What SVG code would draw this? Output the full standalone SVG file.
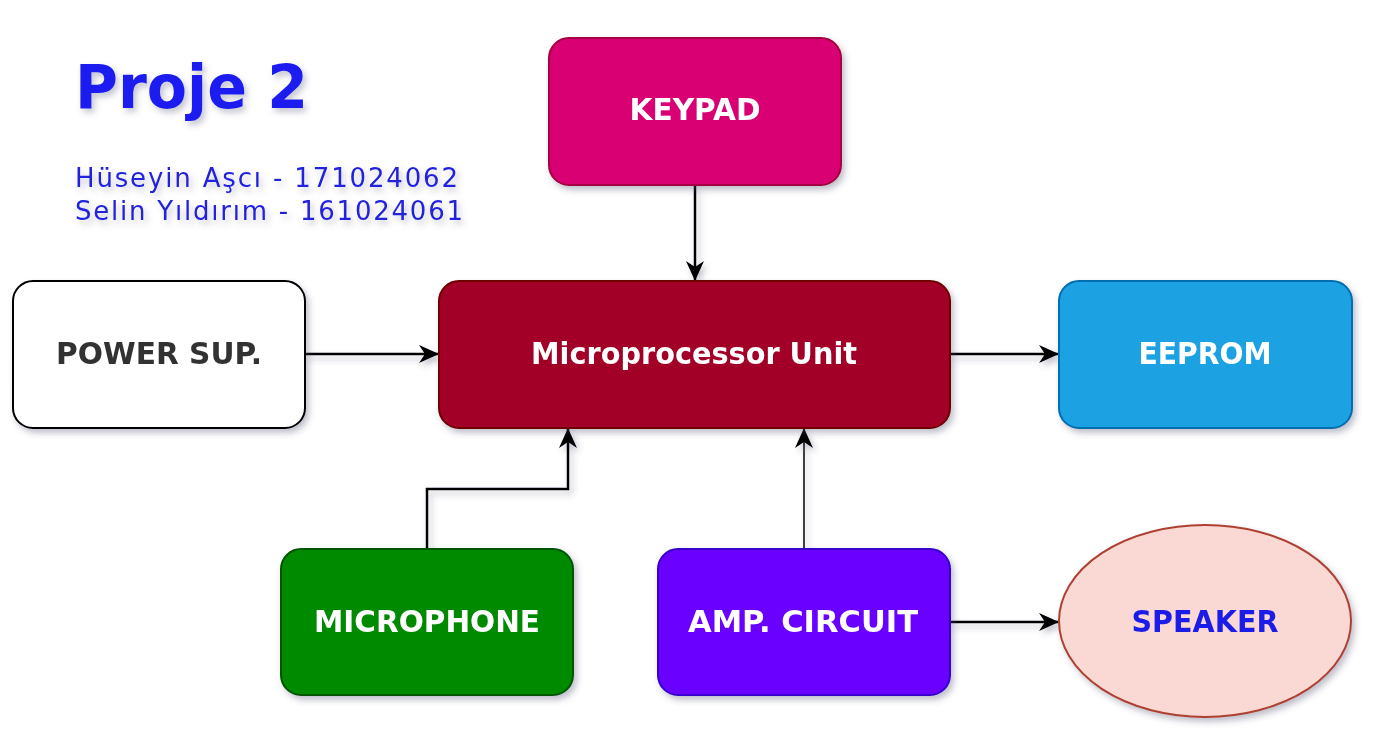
<svg xmlns="http://www.w3.org/2000/svg" width="1380" height="748" viewBox="0 0 1380 748">
<defs>
<filter id="sh" x="-20%" y="-20%" width="140%" height="150%">
<feDropShadow dx="3" dy="4" stdDeviation="3" flood-color="#4a4a6a" flood-opacity="0.35"/>
</filter>
<filter id="tsh" x="-10%" y="-30%" width="120%" height="170%">
<feDropShadow dx="3" dy="4" stdDeviation="3" flood-color="#5a5a7a" flood-opacity="0.35"/>
</filter>
<marker id="arr" viewBox="0 0 20 20" refX="19" refY="10" markerWidth="20" markerHeight="20" markerUnits="userSpaceOnUse" orient="auto">
<path d="M0,1 L20,10 L0,19 L6,10 Z" fill="#000"/>
</marker>
</defs>
<style>
.box{stroke-width:2}
.lbl{font-family:"DejaVu Sans",Verdana,sans-serif;font-weight:bold;font-size:30px;text-anchor:middle}
.w{fill:#ffffff}
.con{fill:none;stroke:#000;stroke-width:2.5;marker-end:url(#arr)}
</style>
<rect width="1380" height="748" fill="#ffffff"/>

<g id="title" filter="url(#tsh)">
<text x="75" y="108" font-family="DejaVu Sans, Verdana, sans-serif" font-weight="bold" font-size="60" fill="#1e1ef0" textLength="233" lengthAdjust="spacingAndGlyphs">Proje 2</text>
<text x="75" y="187" font-family="DejaVu Sans, Verdana, sans-serif" font-size="26" fill="#2222dd" textLength="383" lengthAdjust="spacing">Hüseyin Aşcı - 171024062</text>
<text x="75" y="220" font-family="DejaVu Sans, Verdana, sans-serif" font-size="26" fill="#2222dd" textLength="388" lengthAdjust="spacing">Selin Yıldırım - 161024061</text>
</g>

<g id="connectors" filter="url(#sh)">
<path class="con" d="M695,185 L695,280"/>
<path class="con" d="M305,354 L438,354"/>
<path class="con" d="M950,354 L1058,354"/>
<path class="con" d="M427,549 L427,489 L568,489 L568,429"/>
<path class="con" d="M804,549 L804,429" style="stroke-width:1.5"/>
<path class="con" d="M950,622 L1058,622"/>
</g>

<g id="keypad" filter="url(#sh)">
<rect class="box" x="549" y="38" width="292" height="147" rx="20" fill="#d80073" stroke="#a50040"/>
<text class="lbl w" x="695" y="120" textLength="131" lengthAdjust="spacingAndGlyphs">KEYPAD</text>
</g>

<g id="mpu" filter="url(#sh)">
<rect class="box" x="439" y="281" width="511" height="147" rx="20" fill="#a20025" stroke="#6f0000"/>
<text class="lbl w" x="694" y="364" textLength="326" lengthAdjust="spacingAndGlyphs">Microprocessor Unit</text>
</g>

<g id="power" filter="url(#sh)">
<rect class="box" x="13" y="281" width="292" height="147" rx="20" fill="#ffffff" stroke="#000000"/>
<text class="lbl" x="159" y="364" fill="#333333" textLength="206" lengthAdjust="spacingAndGlyphs">POWER SUP.</text>
</g>

<g id="eeprom" filter="url(#sh)">
<rect class="box" x="1059" y="281" width="293" height="147" rx="20" fill="#1ba1e2" stroke="#006eaf"/>
<text class="lbl w" x="1205" y="364" textLength="133" lengthAdjust="spacingAndGlyphs">EEPROM</text>
</g>

<g id="microphone" filter="url(#sh)">
<rect class="box" x="281" y="549" width="292" height="146" rx="20" fill="#008a00" stroke="#005700"/>
<text class="lbl w" x="427" y="632" textLength="226" lengthAdjust="spacingAndGlyphs">MICROPHONE</text>
</g>

<g id="amp" filter="url(#sh)">
<rect class="box" x="658" y="549" width="292" height="146" rx="20" fill="#6a00ff" stroke="#3700cc"/>
<text class="lbl w" x="803" y="632" textLength="230" lengthAdjust="spacingAndGlyphs">AMP. CIRCUIT</text>
</g>

<g id="speaker" filter="url(#sh)">
<ellipse class="box" cx="1205" cy="621" rx="146" ry="96" fill="#fad9d5" stroke="#ae4132"/>
<text class="lbl" x="1205" y="632" fill="#1c1ce8" textLength="147" lengthAdjust="spacingAndGlyphs">SPEAKER</text>
</g>
</svg>
